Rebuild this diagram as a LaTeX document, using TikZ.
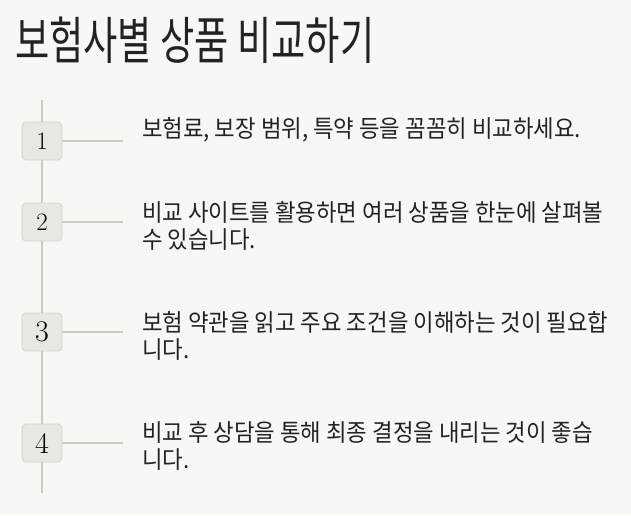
\documentclass[tikz,border=0pt]{standalone}
\usepackage{fontspec}
\newfontfamily\kr{Noto Sans CJK KR}
\definecolor{bgc}{HTML}{F7F7F4}
\definecolor{txt}{HTML}{222222}
\definecolor{linec}{HTML}{CBCBC3}
\definecolor{boxfill}{HTML}{E8E8E3}
\definecolor{boxdraw}{HTML}{D4D4CD}
\begin{document}
\begin{tikzpicture}[x=1pt,y=-1pt,
  numbox/.style={draw=boxdraw, fill=boxfill, line width=0.8pt, rounded corners=4pt,
    minimum width=40pt, minimum height=38pt, inner sep=0pt, text=black},
  conn/.style={draw=linec, line width=1.8pt},
  body/.style={anchor=base west, inner sep=0pt, text=txt, xscale=0.93,
    font=\kr\fontsize{24}{28}\selectfont}]
\useasboundingbox (0,0) rectangle (631,515);
\fill[bgc] (0,0) rectangle (631,515);
\node[anchor=base west, inner sep=0pt, text=txt, xscale=0.73,
  font=\kr\fontsize{51}{60}\selectfont] (title) at (15,59) {보험사별 상품 비교하기};
\node[numbox, font=\rmfamily\fontsize{25}{28}\selectfont] (b1) at (42,141) {1};
\node[numbox, font=\rmfamily\fontsize{25}{28}\selectfont] (b2) at (42,222) {2};
\node[numbox, font=\rmfamily\fontsize{30}{34}\selectfont] (b3) at (42,332) {3};
\node[numbox, font=\rmfamily\fontsize{30}{34}\selectfont] (b4) at (42,443) {4};
\coordinate (top) at (42,100);
\coordinate (bot) at (42,493);
\draw[conn] (top) -- (b1.north);
\draw[conn] (b1.south) -- (b2.north);
\draw[conn] (b2.south) -- (b3.north);
\draw[conn] (b3.south) -- (b4.north);
\draw[conn] (b4.south) -- (bot);
\coordinate (c1) at (123,141);
\coordinate (c2) at (123,222);
\coordinate (c3) at (123,332);
\coordinate (c4) at (123,443);
\draw[conn] (b1.east) -- (c1);
\draw[conn] (b2.east) -- (c2);
\draw[conn] (b3.east) -- (c3);
\draw[conn] (b4.east) -- (c4);
\node[body] (t1) at (142,137) {보험료, 보장 범위, 특약 등을 꼼꼼히 비교하세요.};
\node[body] (t2a) at (142,221) {비교 사이트를 활용하면 여러 상품을 한눈에 살펴볼};
\node[body] (t2b) at (142,248) {수 있습니다.};
\node[body] (t3a) at (142,331) {보험 약관을 읽고 주요 조건을 이해하는 것이 필요합};
\node[body] (t3b) at (142,358) {니다.};
\node[body] (t4a) at (142,441) {비교 후 상담을 통해 최종 결정을 내리는 것이 좋습};
\node[body] (t4b) at (142,468) {니다.};
\end{tikzpicture}
\end{document}
